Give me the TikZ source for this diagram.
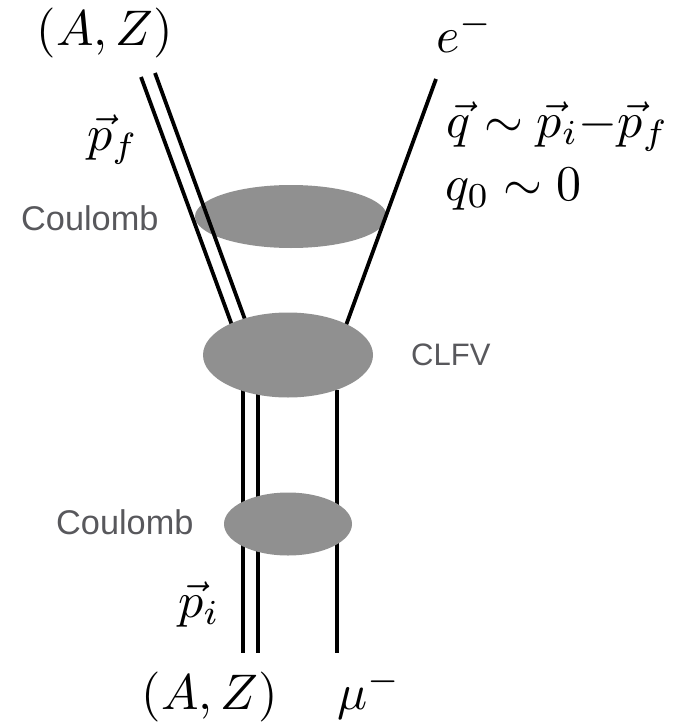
\documentclass[tikz,border=0pt]{standalone}
\usepackage{graphicx}
\usepackage{fontspec}
\newfontfamily\labfont{Liberation Sans}
\usetikzlibrary{shapes.geometric}
\definecolor{blobgray}{RGB}{144,144,144}
\definecolor{labgray}{RGB}{88,88,92}
\newcommand\BigMath[1]{\scalebox{5}{$#1$}}
\tikzset{
  blob/.style={ellipse, fill=blobgray, draw=none, inner sep=0pt},
  leg/.style={line width=3.8pt, black, line cap=butt},
  bigmath/.style={inner sep=0pt},
  lab/.style={inner sep=0pt, text=labgray, font=\labfont\fontsize{34.3}{40}\selectfont},
  labs/.style={inner sep=0pt, text=labgray, font=\labfont\fontsize{31}{36}\selectfont}
}
\begin{document}
\begin{tikzpicture}[x=1pt,y=-1pt]
\useasboundingbox (0,0) rectangle (685,723);
% upper Coulomb blob (under the legs)
\node[blob, minimum width=192pt, minimum height=63pt] (up) at (291,216.5) {};
% endpoints
\coordinate (nA1) at (141,77);
\coordinate (nA2) at (155,73);
\coordinate (nB1) at (233,328);
\coordinate (nB2) at (247,325);
\coordinate (eT) at (436,79);
\coordinate (eB) at (345,328);
\coordinate (vA1) at (243,390);
\coordinate (vA2) at (258,390);
\coordinate (vM) at (337,390);
\coordinate (wA1) at (243,653);
\coordinate (wA2) at (258,653);
\coordinate (wM) at (337,653);
% legs
\draw[leg] (nA1) -- (nB1);
\draw[leg] (nA2) -- (nB2);
\draw[leg] (eT) -- (eB);
\draw[leg] (vA1) -- (wA1);
\draw[leg] (vA2) -- (wA2);
\draw[leg] (vM) -- (wM);
% blobs on top
\node[blob, minimum width=170pt, minimum height=85pt] (mid) at (288,355) {};
\node[blob, minimum width=128pt, minimum height=63pt] (low) at (288,524) {};
% labels
\node[bigmath, anchor=base] (AZt) at (105,45) {\BigMath{(A,Z)}};
\node[bigmath, anchor=base west] (el) at (436,52) {\BigMath{e^-}};
\node[bigmath, anchor=base west] (pf) at (87,150) {\BigMath{\vec{p}_f}};
\node[bigmath, anchor=base west] (qq) at (446,137) {\BigMath{\vec{q}\sim\vec{p}_i{-}\vec{p}_f}};
\node[bigmath, anchor=base west] (q0) at (445,200) {\BigMath{q_0\sim 0}};
\node[bigmath, anchor=base west] (pi) at (178,617) {\BigMath{\vec{p}_i}};
\node[bigmath, anchor=base] (AZb) at (210,709) {\BigMath{(A,Z)}};
\node[bigmath, anchor=base west] (mu) at (337,709) {\BigMath{\mu^-}};
\node[lab, anchor=west] (c1) at (21,218) {Coulomb};
\node[labs, anchor=west] (cl) at (411,355) {CLFV};
\node[lab, anchor=west] (c2) at (56,522) {Coulomb};
\end{tikzpicture}
\end{document}
